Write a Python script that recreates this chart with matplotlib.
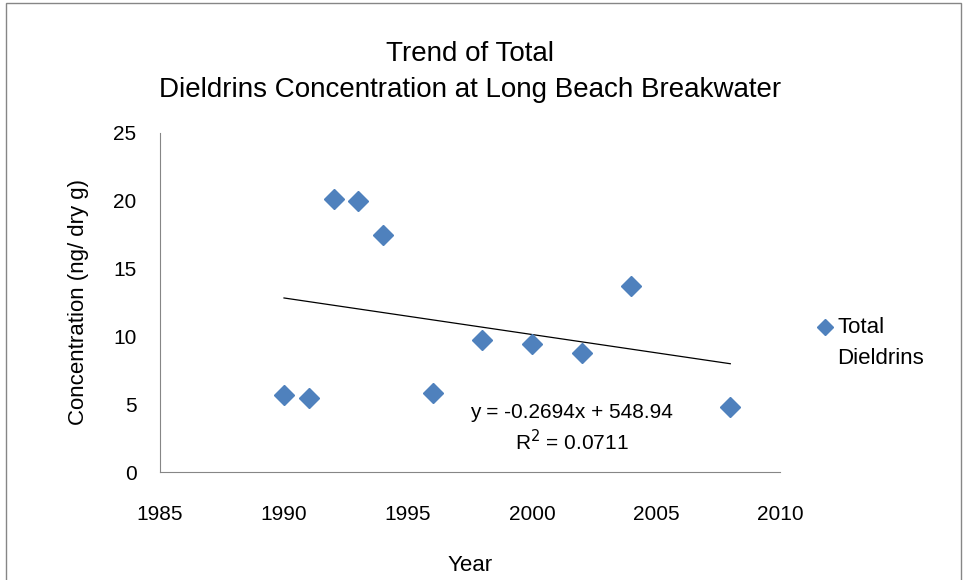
import numpy as np
import matplotlib.pyplot as plt
from matplotlib.patches import Rectangle

# Total Dieldrins at Long Beach Breakwater
years = [1990, 1991, 1992, 1993, 1994, 1996, 1998, 2000, 2002, 2004, 2008]
conc = [5.65, 5.45, 20.1, 20.0, 17.5, 5.85, 9.7, 9.45, 8.8, 13.7, 4.8]

# linear trend as reported on the chart
slope = -0.2694
intercept = 548.94
r2 = 0.0711

plt.rcParams['font.family'] = ['Liberation Sans', 'DejaVu Sans']

fig = plt.figure(figsize=(9.67, 5.8), dpi=100)
ax = fig.add_axes([0.1655, 0.1862, 0.641, 0.5845])

blue = '#4F81BD'
ax.plot(years, conc, 'D', color=blue, markersize=10, label='Total\nDieldrins', zorder=3)

tx = np.array([min(years), max(years)])
ax.plot(tx, slope * tx + intercept, color='black', linewidth=0.9)

ax.set_xlim(1985, 2010)
ax.set_ylim(0, 25)
ax.set_xticks(range(1985, 2011, 5))
ax.set_yticks(range(0, 26, 5))
ax.tick_params(length=0, labelsize=15)
ax.tick_params(axis='x', pad=24)
ax.tick_params(axis='y', pad=17)
for side in ['top', 'right']:
    ax.spines[side].set_visible(False)
for side in ['left', 'bottom']:
    ax.spines[side].set_color('#868686')

ax.set_xlabel('Year', fontsize=16, labelpad=22)
ax.set_ylabel('Concentration (ng/ dry g)', fontsize=16, labelpad=17)
ax.set_title('Trend of Total\nDieldrins Concentration at Long Beach Breakwater',
             fontsize=20, pad=26, linespacing=1.5)

ax.text(2001.6, 4.4, f'y = {slope}x + {intercept}', fontsize=15, ha='center', va='center')
ax.text(2001.6, 2.25, f'R$^2$ = {r2}', fontsize=15, ha='center', va='center')

leg = ax.legend(loc='center left', bbox_to_anchor=(1.026, 0.38), frameon=False,
                fontsize=16, handletextpad=0.15, handlelength=0.8, markerscale=0.8)
for t in leg.get_texts():
    t.set_linespacing(1.6)
# Excel puts the legend symbol next to the first line of the label
for h in leg.legend_handles:
    h.set_ydata(np.asarray(h.get_ydata()) + 12)

fig.patches.append(Rectangle((0.006, -0.01), 0.988, 1.005, transform=fig.transFigure,
                             fill=False, edgecolor='#868686', linewidth=1))

fig.savefig('out.png', dpi=100)
